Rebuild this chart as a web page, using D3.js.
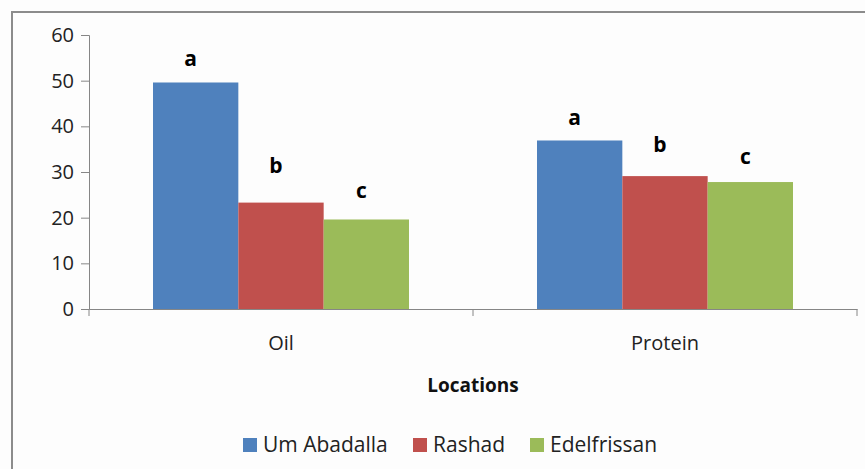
<!DOCTYPE html>
<html>
<head>
<meta charset="utf-8">
<script src="https://cdn.jsdelivr.net/npm/d3@7"></script>
<style>
  body { margin: 0; background: #fdfdfd; }
  text { font-family: "Open Sans", sans-serif; }
</style>
</head>
<body>
<div id="chart"></div>
<script>
// data
var categories = ["Oil", "Protein"];
var seriesNames = ["Um Abadalla", "Rashad", "Edelfrissan"];
var umAbadalla = [49.6, 36.9];
var rashad = [23.3, 29.1];
var edelfrissan = [19.6, 27.8];
var letters = ["a", "b", "c"];
// height (in axis units) where each letter sits
var letterOil = [53.2, 29.8, 24.3];
var letterProtein = [40.3, 34.4, 31.8];
var yTicks = [0, 10, 20, 30, 40, 50, 60];
var colors = ["#4f81bd", "#c0504d", "#9bbb59"];

var width = 865, height = 469;

let svg = d3.select("#chart")
    .append("svg")
    .attr("width", width)
    .attr("height", height);

// outer frame (only top and left edges visible)
svg.append("path")
    .attr("d", "M12," + height + "V12H" + width)
    .attr("fill", "none")
    .attr("stroke", "#8c8c8c")
    .attr("stroke-width", 2);

let table = categories.map(function (c, i) {
    return {
        cat: c,
        vals: [umAbadalla[i], rashad[i], edelfrissan[i]],
        lbl: i == 0 ? letterOil : letterProtein
    };
});

let x0 = d3.scaleBand().domain(categories).range([89, 857]);
let x1 = d3.scaleBand().domain(seriesNames)
    .range([0, x0.bandwidth()]).paddingOuter(0.75);
let y = d3.scaleLinear().domain([0, 60]).range([309, 35]);

// Y axis
let yAxis = svg.append("g")
    .attr("transform", "translate(89,0)")
    .call(d3.axisLeft(y).tickValues(yTicks).tickSize(8).tickPadding(7));
yAxis.select(".domain").attr("stroke", "#868686");
yAxis.selectAll(".tick line").attr("stroke", "#868686");
yAxis.selectAll("text")
    .style("font-size", "20px")
    .attr("fill", "#222")
    .attr("font-family", "Open Sans, sans-serif");

// bars
let groups = svg.selectAll(".grp")
    .data(table)
    .enter()
    .append("g")
    .attr("class", "grp")
    .attr("transform", function (d) { return "translate(" + x0(d.cat) + ",0)"; });

groups.selectAll("rect")
    .data(function (d) { return d.vals.map(function (v, i) { return { name: seriesNames[i], v: v }; }); })
    .enter()
    .append("rect")
    .attr("x", function (d) { return x1(d.name); })
    .attr("y", function (d) { return y(d.v); })
    .attr("width", x1.bandwidth())
    .attr("height", function (d) { return y(0) - y(d.v); })
    .attr("fill", function (d, i) { return colors[i]; });

// significance letters
groups.selectAll(".letter")
    .data(function (d) { return d.lbl.map(function (v, i) { return { name: seriesNames[i], v: v, t: letters[i] }; }); })
    .enter()
    .append("text")
    .attr("class", "letter")
    .attr("x", function (d) { return x1(d.name) + x1.bandwidth() / 2 - 5; })
    .attr("y", function (d) { return y(d.v); })
    .attr("text-anchor", "middle")
    .style("font-size", "21px")
    .style("font-weight", "bold")
    .attr("fill", "#000")
    .text(function (d) { return d.t; });

// X axis
let xAxis = svg.append("g")
    .attr("transform", "translate(0,309)")
    .call(d3.axisBottom(x0).tickSize(0).tickPadding(27));
xAxis.select(".domain").attr("stroke", "#868686");
xAxis.selectAll("text")
    .style("font-size", "20px")
    .attr("fill", "#222")
    .attr("font-family", "Open Sans, sans-serif");
// boundary ticks between categories
let edges = [89].concat(categories.map(function (c) { return x0(c) + x0.bandwidth(); }));
svg.selectAll(".xedge")
    .data(edges)
    .enter()
    .append("line")
    .attr("x1", function (d) { return d; })
    .attr("x2", function (d) { return d; })
    .attr("y1", 309)
    .attr("y2", 316)
    .attr("stroke", "#868686");

// axis title
svg.append("text")
    .attr("x", 473)
    .attr("y", 392)
    .attr("text-anchor", "middle")
    .style("font-size", "19px")
    .style("font-weight", "bold")
    .attr("fill", "#111")
    .text("Locations");

// legend
let legendX = [243, 413, 530];
let legend = svg.selectAll(".leg")
    .data(seriesNames)
    .enter()
    .append("g")
    .attr("class", "leg")
    .attr("transform", function (d, i) { return "translate(" + legendX[i] + ",438)"; });
legend.append("rect")
    .attr("width", 14)
    .attr("height", 14)
    .attr("fill", function (d, i) { return colors[i]; });
legend.append("text")
    .attr("x", 20)
    .attr("y", 14)
    .style("font-size", "21px")
    .attr("fill", "#222")
    .text(function (d) { return d; });
</script>
</body>
</html>
